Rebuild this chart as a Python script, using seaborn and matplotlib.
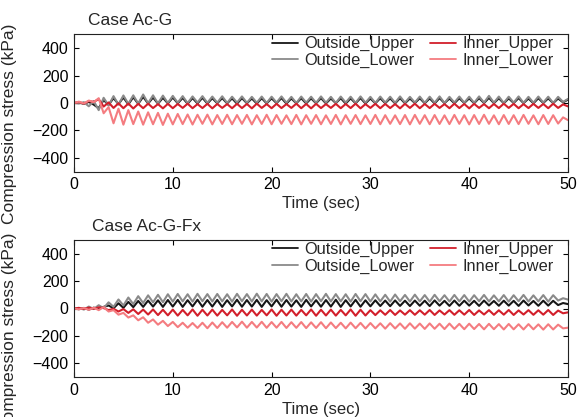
import numpy as np
import pandas as pd
import matplotlib
matplotlib.use("Agg")
import matplotlib.pyplot as plt
import seaborn as sns

# ---------------- data (kPa), sampled every 0.5 s from 0 to 50 s ----------------
time_sec = [i * 0.5 for i in range(101)]

series_names = ["Outside_Upper", "Outside_Lower", "Inner_Upper", "Inner_Lower"]

# Case Ac-G
acg_outside_upper = [
    0, 3, -6, 8, -12, -38, 22, -14, 36, -8,
    40, -10, 42, -6, 45, -4, 40, -5, 38, -3,
    40, -2, 37, -5, 36, -3, 38, -4, 35, -2,
    36, -3, 34, -5, 36, -2, 33, -4, 35, -3,
    34, -1, 36, -4, 33, -2, 35, -3, 34, -2,
    36, -3, 33, -1, 35, -4, 34, -2, 36, -3,
    33, -2, 35, -1, 34, -3, 36, -2, 33, 0,
    35, -2, 34, -3, 36, -1, 33, -2, 35, 0,
    34, -2, 36, 0, 38, -1, 35, -2, 34, 0,
    36, -1, 33, -2, 35, 0, 34, -1, 33, 5,
    25]
acg_outside_lower = [
    0, -4, 6, -24, 14, -52, 38, -18, 50, -12,
    55, -6, 56, -4, 62, -2, 56, -3, 54, 0,
    52, 2, 50, -1, 48, 3, 50, 1, 47, 2,
    49, 0, 46, 3, 48, 1, 45, 2, 47, 0,
    46, 3, 48, 2, 45, 0, 47, 3, 46, 1,
    48, 2, 45, 0, 47, 3, 46, 1, 48, 2,
    45, 0, 47, 3, 46, 1, 48, 2, 45, 3,
    47, 1, 46, 2, 48, 0, 45, 3, 47, 2,
    46, 1, 48, 3, 52, 2, 47, 0, 46, 3,
    48, 1, 45, 2, 47, 3, 46, 0, 45, 8,
    30]
acg_inner_upper = [
    0, 6, -4, 14, 8, 28, -26, 4, -36, -2,
    -38, -4, -40, -6, -38, -5, -37, -8, -39, -6,
    -38, -7, -36, -5, -38, -8, -37, -6, -39, -7,
    -36, -8, -38, -6, -37, -7, -39, -5, -36, -8,
    -38, -6, -37, -8, -36, -5, -38, -7, -39, -6,
    -37, -8, -36, -6, -38, -7, -37, -5, -39, -8,
    -36, -6, -38, -7, -37, -8, -39, -6, -36, -5,
    -38, -7, -37, -6, -36, -8, -38, -5, -37, -7,
    -39, -6, -36, -8, -38, -7, -37, -5, -36, -6,
    -38, -8, -37, -6, -36, -7, -38, -5, -36, -10,
    -25]
acg_inner_lower = [
    0, 10, -4, 18, 6, 35, -75, -30, -148, -42,
    -158, -52, -154, -62, -158, -68, -155, -72, -160, -78,
    -156, -80, -154, -84, -157, -86, -152, -85, -156, -88,
    -153, -86, -155, -88, -152, -87, -156, -89, -153, -86,
    -155, -88, -152, -90, -154, -87, -156, -89, -152, -88,
    -155, -90, -153, -87, -156, -89, -152, -88, -154, -90,
    -153, -87, -155, -89, -152, -90, -154, -88, -156, -87,
    -152, -89, -155, -88, -153, -90, -154, -87, -152, -89,
    -156, -88, -153, -86, -152, -90, -155, -88, -153, -89,
    -154, -87, -152, -90, -155, -88, -153, -89, -150, -105,
    -125]

# Case Ac-G-Fx
acgfx_outside_upper = [
    0, -5, 4, -8, 6, -2, 12, 22, 2, 38,
    5, 48, 10, 55, 12, 58, 14, 60, 12, 62,
    14, 63, 12, 61, 15, 64, 13, 62, 14, 63,
    12, 61, 15, 64, 13, 62, 14, 63, 12, 61,
    15, 64, 13, 62, 14, 60, 12, 63, 15, 61,
    13, 62, 14, 64, 12, 61, 15, 63, 13, 60,
    16, 60, 18, 58, 17, 59, 19, 57, 18, 58,
    20, 57, 18, 59, 21, 56, 19, 58, 20, 57,
    21, 56, 19, 58, 22, 55, 20, 57, 21, 56,
    19, 58, 22, 55, 20, 57, 21, 56, 25, 40,
    32]
acgfx_outside_lower = [
    0, 5, -8, 14, -4, 24, 2, 45, 12, 66,
    22, 80, 32, 90, 40, 96, 45, 100, 46, 104,
    50, 106, 52, 104, 50, 107, 53, 105, 51, 106,
    52, 104, 50, 107, 53, 105, 51, 108, 52, 106,
    50, 105, 53, 107, 51, 104, 52, 106, 50, 105,
    53, 107, 51, 105, 52, 104, 50, 106, 53, 105,
    51, 103, 52, 100, 50, 102, 53, 99, 51, 101,
    52, 98, 50, 100, 53, 97, 51, 99, 52, 98,
    50, 97, 53, 99, 51, 96, 52, 98, 50, 97,
    53, 99, 51, 96, 52, 98, 50, 97, 58, 75,
    65]
acgfx_inner_upper = [
    0, 4, -3, 6, -2, 8, 4, -12, -2, -22,
    -4, -32, -6, -40, -8, -44, -7, -48, -9, -50,
    -8, -52, -10, -50, -7, -53, -9, -51, -8, -52,
    -10, -50, -7, -53, -9, -51, -8, -52, -10, -50,
    -7, -53, -9, -51, -8, -52, -10, -50, -7, -53,
    -9, -51, -8, -52, -10, -50, -7, -53, -9, -51,
    -12, -48, -13, -46, -11, -47, -14, -45, -12, -46,
    -13, -45, -11, -47, -14, -44, -12, -46, -13, -45,
    -11, -47, -14, -44, -12, -46, -13, -45, -11, -47,
    -14, -44, -12, -46, -13, -45, -11, -47, -15, -35,
    -28]
acgfx_inner_lower = [
    0, -6, 4, -10, 6, -12, 10, -22, -12, -45,
    -32, -66, -50, -86, -64, -104, -80, -118, -90, -128,
    -98, -136, -104, -140, -106, -142, -104, -144, -102, -142,
    -100, -140, -98, -138, -96, -140, -98, -139, -97, -141,
    -99, -140, -98, -142, -100, -141, -99, -143, -101, -142,
    -100, -144, -102, -143, -104, -145, -103, -144, -105, -146,
    -106, -145, -108, -147, -107, -146, -109, -148, -108, -147,
    -110, -149, -109, -148, -111, -150, -110, -149, -112, -151,
    -111, -150, -113, -152, -112, -151, -114, -153, -113, -152,
    -115, -153, -114, -152, -116, -154, -115, -153, -118, -145,
    -140]

panel_titles = ["Case Ac-G", "Case Ac-G-Fx"]
x_ticks = [0, 10, 20, 30, 40, 50]
y_ticks = [-400, -200, 0, 200, 400]

series_colors = ["#161616", "#8a8a8a", "#d21f2b", "#f47c80"]

panels = [
    [acg_outside_upper, acg_outside_lower, acg_inner_upper, acg_inner_lower],
    [acgfx_outside_upper, acgfx_outside_lower, acgfx_inner_upper, acgfx_inner_lower],
]

# ---------------- styling ----------------
sns.set_theme(style="ticks")
plt.rcParams["font.family"] = ["Liberation Sans", "DejaVu Sans"]
plt.rcParams["axes.linewidth"] = 0.8

fig = plt.figure(figsize=(5.77, 4.17), dpi=100)
W, H = 577.0, 417.0
axes_px = [(74, 34.5, 568, 171.5), (74, 240, 568, 377)]
label_y = [0.35, 0.32]
title_x = [0.028, 0.036]

for p, (vals, title) in enumerate(zip(panels, panel_titles)):
    x0, y0, x1, y1 = axes_px[p]
    ax = fig.add_axes([x0 / W, 1 - y1 / H, (x1 - x0) / W, (y1 - y0) / H])
    frames = []
    for name, v in zip(series_names, vals):
        frames.append(pd.DataFrame({"t": time_sec, "v": v, "series": name}))
    df = pd.concat(frames, ignore_index=True)
    sns.lineplot(data=df, x="t", y="v", hue="series", hue_order=series_names,
                 palette=series_colors, linewidth=1.5, ax=ax, legend=False,
                 estimator=None, sort=False)
    ax.set_xlim(0, 50)
    ax.set_ylim(-500, 500)
    ax.set_xticks(x_ticks)
    ax.set_yticks(y_ticks)
    ax.tick_params(direction="in", length=3.5, width=0.8, top=True, right=True,
                   labelsize=11.5, pad=4, colors="#000000")
    for s in ax.spines.values():
        s.set_color("#222222")
    ax.set_xlabel("Time (sec)", fontsize=12, labelpad=3)
    ax.set_ylabel("Compression stress (kPa)", fontsize=12.5)
    ax.yaxis.set_label_coords(-0.115, label_y[p])
    ax.text(title_x[p], 1.045, title, transform=ax.transAxes, fontsize=12.5,
            ha="left", va="bottom")
    handles = [plt.Line2D([], [], color=c, linewidth=1.3) for c in series_colors]
    ax.legend(handles, series_names, ncol=2, frameon=False, loc="upper right",
              bbox_to_anchor=(0.985, 1.035), fontsize=11.75, handlelength=1.6,
              handletextpad=0.4, columnspacing=0.95, labelspacing=0.1,
              borderaxespad=0.0)

fig.savefig("out.png", dpi=100)
